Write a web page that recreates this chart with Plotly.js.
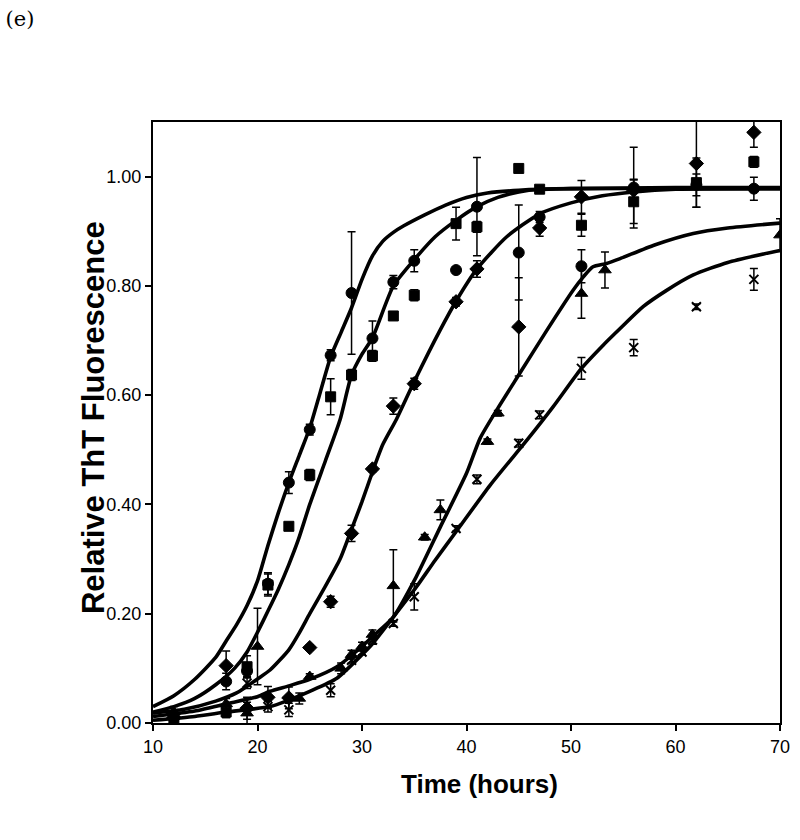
<!DOCTYPE html>
<html>
<head>
<meta charset="utf-8">
<script src="https://cdn.plot.ly/plotly-3.0.1.min.js"></script>
<style>html,body{margin:0;padding:0;background:#fff;}#chart{width:800px;height:840px;}</style>
</head>
<body>
<div id="chart"></div>
<script>
// ---- measured data (hours, relative ThT fluorescence) ----
const time = [12,17,19,21,23,25,27,29,31,33,35,39,41,45,47,51,56,62,67.5];
const circleY   = [0.01,0.076,0.095,0.255,0.44,0.537,0.673,0.787,0.704,0.807,0.846,0.829,0.945,0.861,0.926,0.836,0.98,0.985,0.978];
const circleErr = [0.01,0.015,0.01,0.02,0.02,0.01,0.01,0.112,0.032,0.012,0.02,0.005,0.09,0.087,0.01,0.03,0.074,0.02,0.021];
const squareY   = [0.0,0.02,0.103,0.2525,0.36,0.454,0.597,0.637,0.672,0.745,0.783,0.914,0.908,1.015,0.977,0.911,0.954,0.989,1.027];
const squareErr = [0.01,0.01,0.02,0.02,0.005,0.01,0.033,0.01,0.01,0.005,0.01,0.03,0.01,0.005,0.005,0.02,0.04,0.045,0.01];
const diamondY   = [0.01,0.105,0.027,0.047,0.046,0.138,0.222,0.347,0.465,0.58,0.621,0.771,0.831,0.725,0.906,0.963,0.975,1.024,1.081];
const diamondErr = [0.01,0.027,0.02,0.02,0.02,0.005,0.01,0.015,0.005,0.015,0.01,0.008,0.015,0.09,0.015,0.03,0.02,0.08,0.027];

const triTime = [12,17,19,20,24,25,28,29,30,31,33,36,37.5,42,43,51,53.25,70];
const triY    = [0.02,0.035,0.018,0.14,0.045,0.085,0.1,0.125,0.14,0.162,0.251,0.34,0.39,0.515,0.567,0.786,0.829,0.893];
const triErr  = [0.01,0.01,0.02,0.07,0.01,0.005,0.01,0.008,0.008,0.008,0.066,0.005,0.018,0.005,0.005,0.045,0.033,0.03];

const crossTime = [12,17,19,21,23,27,29,30,31,33,35,39,41,45,47,51,56,62,67.5];
const crossY    = [0.005,0.02,0.073,0.03,0.024,0.06,0.115,0.13,0.152,0.182,0.231,0.356,0.446,0.512,0.564,0.649,0.687,0.762,0.812];
const crossErr  = [0.01,0.01,0.01,0.01,0.012,0.012,0.005,0.005,0.008,0.005,0.024,0.005,0.008,0.007,0.007,0.02,0.015,0.005,0.02];

// ---- fitted curves ----
const fitAx = [10,12,14,16,17,18,19,20,21,22,23,24,25,26,27,28,29,30,31,32,33,34,36,38,40,42,45,50,60,70];
const fitAy = [0.03,0.05,0.08,0.12,0.15,0.18,0.215,0.26,0.325,0.385,0.44,0.49,0.54,0.605,0.67,0.715,0.76,0.812,0.855,0.882,0.898,0.91,0.93,0.948,0.962,0.97,0.975,0.978,0.978,0.978];
const fitBx = [10,12,14,16,17.8,19,20.1,21,22,23,23.9,25,26.5,27.9,29,30,31,33,35,37,39,41,43,45,47,50,60,70];
const fitBy = [0.02,0.03,0.045,0.07,0.1,0.13,0.17,0.205,0.245,0.29,0.335,0.4,0.48,0.555,0.637,0.675,0.705,0.8,0.848,0.89,0.92,0.945,0.962,0.972,0.977,0.978,0.98,0.98];
const fitCx = [10,13,16,18,20.1,21.2,23,24,25,26.46,27.9,28.85,30,31.1,32,33.3,35,37.5,39,41,43.85,47,50,53,56,60,70];
const fitCy = [0.018,0.025,0.04,0.055,0.082,0.097,0.134,0.165,0.2,0.249,0.3,0.347,0.405,0.465,0.51,0.556,0.625,0.72,0.772,0.831,0.89,0.932,0.952,0.965,0.972,0.977,0.978];
const fitDx = [10,14,17,20,21.2,23,25,27.6,30,31,33,35.2,37.5,40,41.3,42.9,45.1,47.7,50.2,51.2,52.1,53.4,54.7,58,61.7,65,70];
const fitDy = [0.012,0.022,0.035,0.048,0.058,0.068,0.08,0.103,0.14,0.158,0.194,0.268,0.359,0.457,0.521,0.573,0.64,0.719,0.792,0.817,0.835,0.841,0.85,0.875,0.896,0.906,0.915];
const fitEx = [10,14,17,21.2,23,25,27.6,30,31,33,35.2,37,39,42.25,45.8,48.3,51,53.1,54.7,56.9,59,61.7,65,70];
const fitEy = [0.005,0.012,0.02,0.03,0.042,0.058,0.082,0.125,0.145,0.194,0.249,0.298,0.35,0.435,0.518,0.579,0.649,0.692,0.722,0.762,0.79,0.82,0.843,0.865];

const yTicks = [0,0.2,0.4,0.6,0.8,1.0];
const xTicks = [10,20,30,40,50,60,70];
const xTitle = 'Time (hours)';
const yTitle = 'Relative ThT Fluorescence';

function fitLine(x, y) {
  return {x: x, y: y, mode: 'lines', type: 'scatter', hoverinfo: 'skip',
          line: {color: '#000', width: 3.6, shape: 'spline', smoothing: 0.6}};
}
function pts(x, y, err, symbol, size, extra) {
  const m = {symbol: symbol, size: size, color: '#000', line: {color: '#000', width: 1}};
  if (extra) Object.assign(m, extra);
  return {x: x, y: y, mode: 'markers', type: 'scatter', marker: m,
          error_y: {type: 'data', array: err, visible: true, color: '#000', thickness: 1.5, width: 4}};
}

const data = [
  fitLine(fitAx, fitAy), fitLine(fitBx, fitBy), fitLine(fitCx, fitCy),
  fitLine(fitDx, fitDy), fitLine(fitEx, fitEy),
  pts(time, squareY, squareErr, 'square', 10),
  pts(time, diamondY, diamondErr, 'diamond', 11),
  pts(time, circleY, circleErr, 'circle', 11),
  pts(triTime, triY, triErr, 'triangle-up', 11),
  pts(crossTime, crossY, crossErr, 'x-thin', 9, {line: {color: '#000', width: 2}})
];

const axisFont = {family: 'Liberation Sans, Arial, sans-serif', size: 18, color: '#000'};
const xTitleFont = {family: 'Liberation Sans, Arial, sans-serif', size: 26, color: '#000', weight: 'bold'};
const yTitleFont = {family: 'Liberation Sans, Arial, sans-serif', size: 31, color: '#000', weight: 'bold'};

const layout = {
  width: 800, height: 840,
  margin: {l: 153, r: 20, t: 122, b: 117},
  paper_bgcolor: '#fff', plot_bgcolor: '#fff',
  showlegend: false,
  title: {text: '(e)', x: 0.007, xref: 'container', xanchor: 'left',
          y: 0.978, yref: 'container', yanchor: 'middle',
          font: {family: 'DejaVu Serif, Liberation Serif, serif', size: 21, color: '#000'}},
  xaxis: {range: [10, 70], tickvals: xTicks, ticktext: xTicks.map(String),
          ticks: 'outside', ticklen: 6, tickwidth: 2, tickcolor: '#000',
          showline: true, linecolor: '#000', linewidth: 2, mirror: true,
          showgrid: false, zeroline: false, tickfont: axisFont},
  yaxis: {range: [0, 1.1], tickvals: yTicks, ticktext: yTicks.map(v => v.toFixed(2)),
          ticks: 'outside', ticklen: 6, tickwidth: 2, tickcolor: '#000',
          showline: true, linecolor: '#000', linewidth: 2, mirror: true,
          showgrid: false, zeroline: false, tickfont: axisFont},
  annotations: [
    {text: xTitle, xref: 'paper', yref: 'paper', x: 0.52, y: -0.1015,
     xanchor: 'center', yanchor: 'middle', showarrow: false, font: xTitleFont},
    {text: yTitle, xref: 'paper', yref: 'paper', x: -0.0957, y: 0.509, textangle: -90,
     xanchor: 'center', yanchor: 'middle', showarrow: false, font: yTitleFont}
  ]
};

Plotly.newPlot('chart', data, layout, {staticPlot: true, displayModeBar: false});
</script>
</body>
</html>
